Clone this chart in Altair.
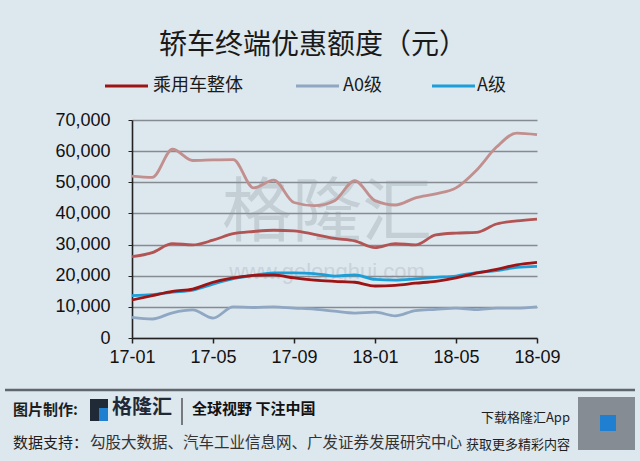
import altair as alt
import pandas as pd

months = ["17-01", "17-02", "17-03", "17-04", "17-05", "17-06", "17-07",
          "17-08", "17-09", "17-10", "17-11", "17-12", "18-01", "18-02",
          "18-03", "18-04", "18-05", "18-06", "18-07", "18-08", "18-09"]
tick_months = ["17-01", "17-05", "17-09", "18-01", "18-05", "18-09"]

series_top = [52000, 51600, 60600, 57000, 57200, 57300, 48200, 50700, 43500, 42500,
              44100, 50500, 44100, 42700, 45000, 46300, 48200, 53800, 61300, 65800, 65300]
series_mid = [26100, 27400, 30300, 29900, 31400, 33500, 34200, 34600, 34400, 33300,
              32000, 31200, 29000, 30300, 29900, 33100, 33700, 33900, 36600, 37600, 38200]
overall = [12200, 13600, 15000, 15700, 17900, 19300, 20100, 20300, 19300, 18600,
           18200, 17900, 16700, 16900, 17600, 18200, 19300, 20800, 22000, 23500, 24300]
a_class = [13600, 13900, 14700, 15400, 17300, 19100, 20100, 20900, 20900, 20700,
           19900, 20300, 18800, 18600, 19000, 19500, 19900, 21000, 21600, 22700, 23000]
a0_class = [6600, 6100, 8100, 9000, 6400, 10000, 9800, 10000, 9600, 9300,
            8600, 8000, 8300, 7100, 8800, 9200, 9600, 9100, 9600, 9600, 10000]

names = ["未标注1", "未标注2", "A0级", "A级", "乘用车整体"]
colors = ["#c28f8f", "#b25454", "#8fa7c2", "#1c9fd8", "#9e1414"]
all_series = [series_top, series_mid, a0_class, a_class, overall]

rows = []
for order, (n, vals) in enumerate(zip(names, all_series)):
    for m, v in zip(months, vals):
        rows.append({"month": m, "series": n, "value": v, "order": order})
df = pd.DataFrame(rows)

FONT = "Noto Sans CJK SC"
W, H = 405, 218
one = pd.DataFrame({"a": [0]})

lines = alt.Chart(df).mark_line(interpolate="monotone", strokeWidth=2.8).encode(
    x=alt.X("month:O", sort=months,
            scale=alt.Scale(type="point", padding=0),
            axis=alt.Axis(values=tick_months, title=None, labelAngle=0,
                          labelFont="Liberation Sans", labelFontSize=18,
                          labelColor="#111", labelPadding=5, tickSize=5,
                          tickColor="#222", domainColor="#222", domainWidth=1.6,
                          tickWidth=1.5, grid=False)),
    y=alt.Y("value:Q", scale=alt.Scale(domain=[0, 70000], nice=False),
            axis=alt.Axis(values=list(range(0, 70001, 10000)), format=",d",
                          title=None, labelFont="Liberation Sans", labelFontSize=18,
                          labelColor="#111", labelPadding=18, tickSize=4,
                          tickColor="#222", domainColor="#222", domainWidth=1.6,
                          gridColor="#858b91", gridWidth=1.6)),
    color=alt.Color("series:N", scale=alt.Scale(domain=names, range=colors), legend=None),
    order=alt.Order("order:Q"),
)

def txt(s, x, y, size, align="left", weight="normal", color="#222", font=FONT, opacity=1.0, baseline="middle"):
    return alt.Chart(one).mark_text(text=s, align=align, baseline=baseline, fontSize=size,
                                    fontWeight=weight, color=color, font=font,
                                    opacity=opacity).encode(x=alt.value(x), y=alt.value(y))

def hrule(x1, x2, y, color, w):
    return alt.Chart(one).mark_rule(color=color, strokeWidth=w).encode(
        x=alt.value(x1), x2=alt.value(x2), y=alt.value(y))

def box(x1, x2, y1, y2, color, opacity=1.0):
    return alt.Chart(one).mark_rect(color=color, opacity=opacity).encode(
        x=alt.value(x1), x2=alt.value(x2), y=alt.value(y1), y2=alt.value(y2))

OX, OY = 132, 120  # canvas position of the plot origin

layers = [
    txt("格隆汇", 327 - OX, 215 - OY, 70, align="center", color="#8e969c", opacity=0.3),
    txt("www.gelonghui.com", 327 - OX, 272 - OY, 22, align="center", color="#8e969c", opacity=0.25,
        font="Liberation Sans"),
    lines,
    txt("轿车终端优惠额度（元）", 313 - OX, 46 - OY, 28, align="center", color="#1a1a1a"),
    hrule(105 - OX, 148 - OX, 86 - OY, "#9e1414", 3),
    txt("乘用车整体", 153 - OX, 86 - OY, 18, color="#1a1a1a"),
    hrule(296 - OX, 339 - OX, 86 - OY, "#8fa7c2", 3),
    txt("A0级", 343 - OX, 86 - OY, 18, color="#1a1a1a"),
    hrule(432 - OX, 475 - OX, 86 - OY, "#1c9fd8", 3),
    txt("A级", 477 - OX, 86 - OY, 18, color="#1a1a1a"),
    # footer
    hrule(5 - OX, 635 - OX, 390 - OY, "#5f666d", 2.5),
    txt("图片制作:", 13 - OX, 410 - OY, 15, weight="bold", color="#1e1e1e"),
    box(90 - OX, 108 - OX, 399 - OY, 421 - OY, "#1f2a36"),
    box(99 - OX, 108 - OX, 408 - OY, 421 - OY, "#1f7fd0"),
    txt("格隆汇", 112 - OX, 408 - OY, 20, weight="bold", color="#1f2a36"),
    alt.Chart(one).mark_rule(color="#333", strokeWidth=1.2).encode(
        x=alt.value(182 - OX), y=alt.value(398 - OY), y2=alt.value(425 - OY)),
    txt("全球视野 下注中国", 192 - OX, 409 - OY, 15, weight="bold", color="#111"),
    txt("数据支持：", 13 - OX, 443 - OY, 15, color="#1e1e1e"),
    txt("勾股大数据、汽车工业信息网、广发证券发展研究中心", 90 - OX, 443 - OY, 15.5, color="#333"),
    txt("下载格隆汇App", 570 - OX, 418 - OY, 13, align="right", color="#1e1e1e"),
    txt("获取更多精彩内容", 570 - OX, 445 - OY, 13, align="right", color="#1e1e1e"),
    box(578 - OX, 635 - OX, 397 - OY, 450 - OY, "#6f767d", 0.8),
    box(600 - OX, 616 - OX, 415 - OY, 431 - OY, "#1f7fd0"),
]

chart = alt.layer(*layers).properties(
    width=W, height=H,
    padding={"left": OX, "top": OY, "right": 640 - OX - W, "bottom": 461 - OY - H},
    autosize=alt.AutoSizeParams(type="none"),
    background="#dde7ee",
).configure_view(stroke=None)

chart.save("out.html", embed_options={"renderer": "svg", "actions": False})
